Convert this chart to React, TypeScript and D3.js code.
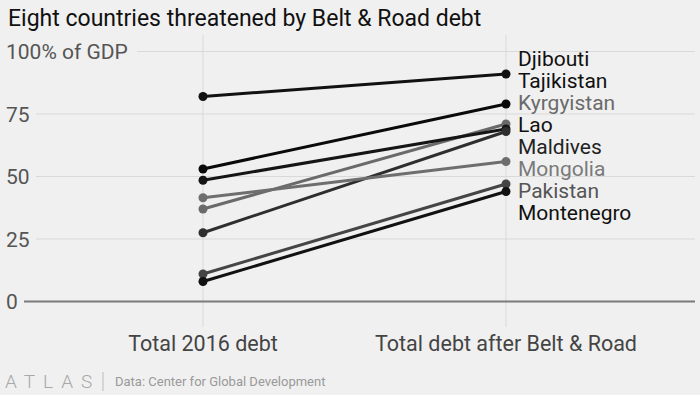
import React from "react";
import * as d3 from "d3";

const W = 700;
const H = 395;

const categories = ["Total 2016 debt", "Total debt after Belt & Road"];
const countries = ["Djibouti", "Tajikistan", "Kyrgyistan", "Lao", "Maldives", "Mongolia", "Pakistan", "Montenegro"];
const debt2016 = [82, 53, 37, 48.5, 27.5, 41.5, 11, 8];
const debtAfter = [91, 79, 71, 69, 68, 56, 47, 44];
const lineColors = ["#111", "#0a0a0a", "#6a6a6a", "#151515", "#2e2e2e", "#6e6e6e", "#454545", "#111"];
const labelColors = ["#111", "#111", "#6a6a6a", "#111", "#222", "#7a7a7a", "#555", "#111"];
const yTicks = [0, 25, 50, 75, 100];

const x = d3.scalePoint<string>().domain(categories).range([203, 506]);
const y = d3.scaleLinear().domain([0, 100]).range([301.5, 51.5]);

// spread the end labels so they don't overlap (cluster merging)
function placeLabels(targets: number[], gap: number) {
  const order = d3.range(targets.length).sort((a, b) => targets[a] - targets[b]);
  let clusters: { idx: number[]; mean: number }[] = [];
  order.forEach(i => {
    clusters.push({ idx: [i], mean: targets[i] });
    let merged = true;
    while (merged && clusters.length > 1) {
      merged = false;
      const b = clusters[clusters.length - 1];
      const a = clusters[clusters.length - 2];
      const aEnd = a.mean + ((a.idx.length - 1) * gap) / 2;
      const bStart = b.mean - ((b.idx.length - 1) * gap) / 2;
      if (bStart - aEnd < gap) {
        const idx = a.idx.concat(b.idx);
        clusters.splice(clusters.length - 2, 2, { idx, mean: d3.mean(idx, j => targets[j]) as number });
        merged = true;
      }
    }
  });
  const out: number[] = new Array(targets.length);
  clusters.forEach(c => {
    const start = c.mean - ((c.idx.length - 1) * gap) / 2;
    c.idx.forEach((j, k) => (out[j] = start + k * gap));
  });
  return out;
}

export default function App() {
  const font = "Roboto, 'Noto Sans', sans-serif";
  const x0 = x(categories[0]) as number;
  const x1 = x(categories[1]) as number;
  const labelY = placeLabels(debtAfter.map(v => y(v)), 22);

  return (
    <svg width={W} height={H} style={{ position: "absolute", left: 0, top: 0, display: "block" }} fontFamily={font}>
      <rect width={W} height={H} fill="#f0f0f0" />
      <text x={8} y={26} fontSize={23} fill="#111">Eight countries threatened by Belt &amp; Road debt</text>

      {/* vertical gridlines */}
      {categories.map(c => (
        <line key={c} x1={x(c)} x2={x(c)} y1={35} y2={327} stroke="#dadada" strokeWidth={1} />
      ))}

      {/* horizontal gridlines and tick labels */}
      {yTicks.map(t => (
        <g key={t}>
          {t === 0 ? (
            <line x1={24} x2={695} y1={y(t)} y2={y(t)} stroke="#7a7a7a" strokeWidth={2} />
          ) : (
            <line x1={t === 100 ? 137 : 36} x2={695} y1={y(t)} y2={y(t)} stroke="#d9d9d9" strokeWidth={1} />
          )}
          <text x={6} y={y(t)} dy="0.36em" fontSize={21} fill="#555">
            {t === 100 ? "100% of GDP" : t}
          </text>
        </g>
      ))}

      {/* slope lines */}
      {countries.map((c, i) => (
        <g key={c}>
          <line x1={x0} y1={y(debt2016[i])} x2={x1} y2={y(debtAfter[i])} stroke={lineColors[i]} strokeWidth={3} />
          <circle cx={x0} cy={y(debt2016[i])} r={4.5} fill={lineColors[i]} />
          <circle cx={x1} cy={y(debtAfter[i])} r={4.5} fill={lineColors[i]} />
        </g>
      ))}

      {/* country labels */}
      {countries.map((c, i) => (
        <text key={c} x={518} y={labelY[i] - 1.5} dy="0.36em" fontSize={21} fill={labelColors[i]}>{c}</text>
      ))}

      {/* category labels */}
      {categories.map(c => (
        <text key={c} x={x(c)} y={351} textAnchor="middle" fontSize={21.5} fill="#444">{c}</text>
      ))}

      {/* footer */}
      <text x={5} y={388} fontSize={19} fill="#a8a8a8" fontWeight={300} letterSpacing={8}>ATLAS</text>
      <line x1={103} x2={103} y1={372} y2={391} stroke="#bbb" strokeWidth={1} />
      <text x={115} y={386} fontSize={13} fill="#999">Data: Center for Global Development</text>
    </svg>
  );
}
